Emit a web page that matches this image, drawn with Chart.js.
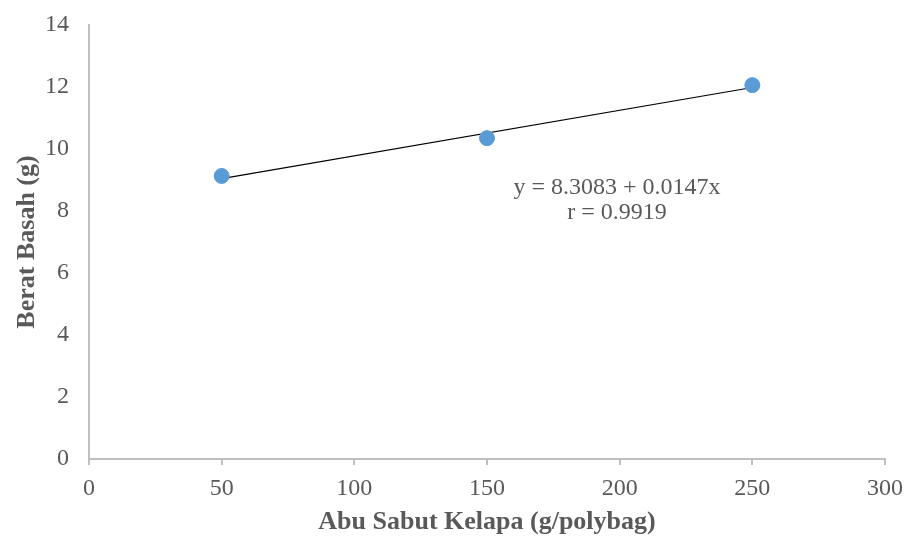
<!DOCTYPE html>
<html>
<head>
<meta charset="utf-8">
<script src="https://cdn.jsdelivr.net/npm/chart.js@4.4.1/dist/chart.umd.min.js"></script>
<style>
  html, body { margin: 0; padding: 0; background: #ffffff; }
  #wrap { width: 906px; height: 538px; }
</style>
</head>
<body>
<div id="wrap"><canvas id="chart" width="906" height="538"></canvas></div>
<script>
// Coconut husk ash dose (g/polybag) vs fresh weight (g)
const doses = [50, 150, 250];
const freshWeight = [9.13, 10.35, 12.06];

// Linear regression reported for the series
const intercept = 8.3083;
const slope = 0.0147;
const rValue = 0.9919;
const fitRange = [50, 250];

const xTicks = [0, 50, 100, 150, 200, 250, 300];
const yTicks = [0, 2, 4, 6, 8, 10, 12, 14];

const points = doses.map((d, i) => ({ x: d, y: freshWeight[i] }));
const fitLine = fitRange.map(x => ({ x: x, y: intercept + slope * x }));

const textColor = '#595959';
const axisColor = '#bfbfbf';
const serif = '"Liberation Serif", "Times New Roman", serif';

// Tick-label overflow is left to the layout padding instead
function clearOverflow(scale) {
  scale.paddingTop = 0;
  scale.paddingBottom = 0;
  scale.paddingLeft = 0;
  scale.paddingRight = 0;
}

// Writes the regression equation under the fitted line
const equationLabel = {
  id: 'equationLabel',
  afterDatasetsDraw(chart) {
    const { ctx, scales } = chart;
    const cx = scales.x.getPixelForValue(199);
    const y1 = scales.y.getPixelForValue(8.74);
    const y2 = scales.y.getPixelForValue(7.94);
    ctx.save();
    ctx.fillStyle = textColor;
    ctx.font = '24px ' + serif;
    ctx.textAlign = 'center';
    ctx.textBaseline = 'middle';
    ctx.fillText('y = ' + intercept.toFixed(4) + ' + ' + slope.toFixed(4) + 'x', cx, y1);
    ctx.fillText('r = ' + rValue.toFixed(4), cx, y2);
    ctx.restore();
  }
};

new Chart(document.getElementById('chart'), {
  type: 'scatter',
  data: {
    datasets: [
      {
        label: 'Trendline',
        type: 'line',
        data: fitLine,
        borderColor: '#000000',
        borderWidth: 1.2,
        pointRadius: 0,
        fill: false,
        order: 2
      },
      {
        label: 'Berat Basah',
        data: points,
        backgroundColor: '#5b9bd5',
        borderColor: '#5b9bd5',
        pointRadius: 7.5,
        pointHoverRadius: 7.5,
        order: 1
      }
    ]
  },
  options: {
    responsive: false,
    animation: false,
    layout: { padding: { top: 25, right: 21, left: 0, bottom: 0 } },
    plugins: {
      legend: { display: false },
      tooltip: { enabled: false }
    },
    scales: {
      x: {
        type: 'linear',
        min: 0,
        max: 300,
        afterBuildTicks(scale) { scale.ticks = xTicks.map(v => ({ value: v })); },
        afterFit(scale) { scale.height = 79; clearOverflow(scale); },
        border: { color: axisColor, width: 2 },
        grid: { drawOnChartArea: false, drawTicks: true, tickLength: 6, color: axisColor, lineWidth: 2 },
        ticks: { color: textColor, font: { family: serif, size: 24 }, padding: 9 },
        title: {
          display: true,
          text: 'Abu Sabut Kelapa (g/polybag)',
          color: textColor,
          font: { family: serif, size: 26, weight: 'bold' },
          padding: { top: 2, bottom: 0 }
        }
      },
      y: {
        type: 'linear',
        min: 0,
        max: 14,
        afterBuildTicks(scale) { scale.ticks = yTicks.map(v => ({ value: v })); },
        afterFit(scale) { scale.width = 89; clearOverflow(scale); },
        border: { color: axisColor, width: 2 },
        grid: { display: false, drawTicks: false },
        ticks: { color: textColor, font: { family: serif, size: 24 }, padding: 20 },
        title: {
          display: true,
          text: 'Berat Basah (g)',
          color: textColor,
          font: { family: serif, size: 26, weight: 'bold' },
          padding: { top: 12, bottom: 0 }
        }
      }
    }
  },
  plugins: [equationLabel]
});
</script>
</body>
</html>
